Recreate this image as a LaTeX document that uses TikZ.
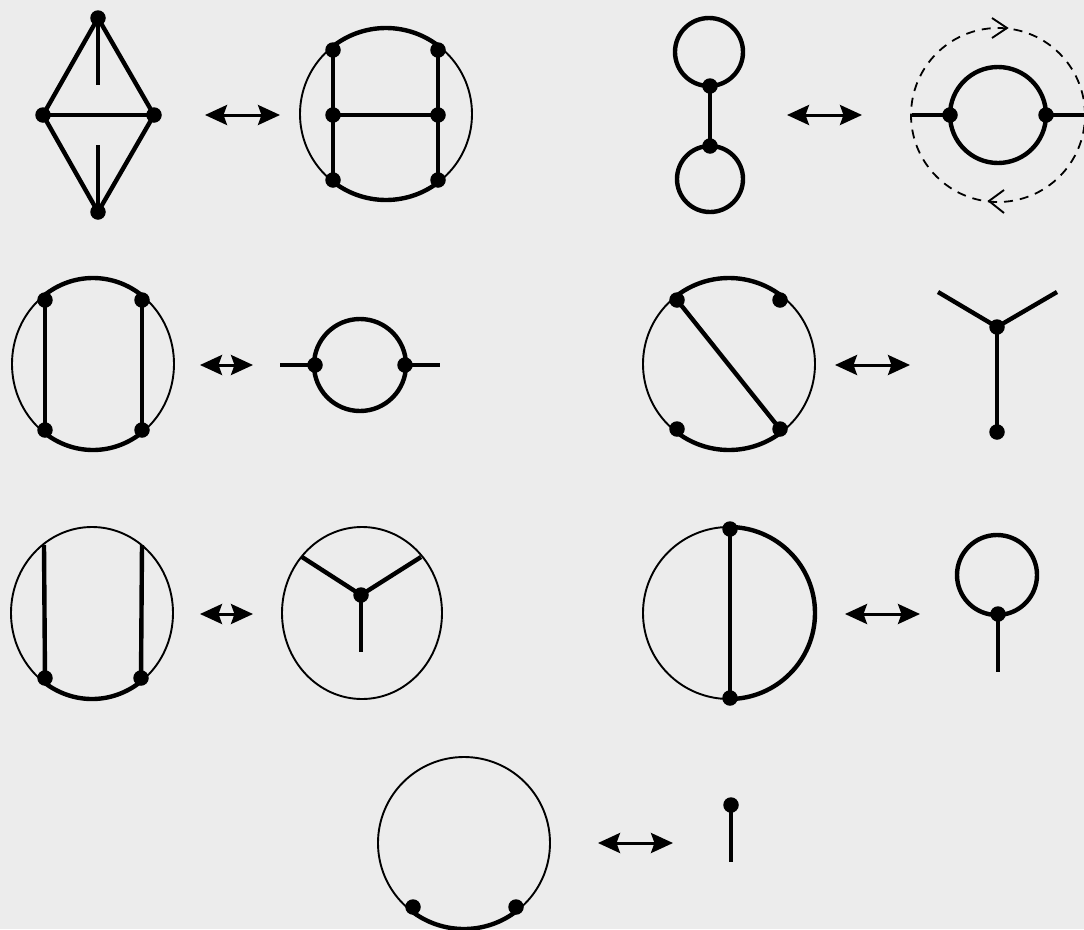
\documentclass[tikz,border=0pt]{standalone}
\usetikzlibrary{arrows.meta}
\definecolor{paper}{RGB}{236,236,236}
\begin{document}
\begin{tikzpicture}[x=1pt,y=1pt,
  edge/.style={line width=4.4pt},
  rim/.style={line width=1.9pt},
  dashrim/.style={line width=1.8pt,dash pattern=on 9pt off 7pt},
  dot/.style={circle,fill=black,inner sep=0pt,minimum size=15.5pt},
  tip/.tip={Stealth[length=22pt,width=20pt,inset=3.5pt]},
  dual/.style={line width=3pt,tip-tip},
  chev/.style={line width=1.9pt}]
\fill[paper] (0,0) rectangle (1084,-929);
\useasboundingbox (0,0) rectangle (1084,-929);
\clip (0,0) rectangle (1084,-929);

% ---------- graph 1: diamond ----------
\node[dot] (t1) at (98,-18) {};
\node[dot] (l1) at (43,-115) {};
\node[dot] (r1) at (154,-115) {};
\node[dot] (b1) at (98,-212) {};
\coordinate (s1a) at (98,-85);
\coordinate (s1b) at (98,-145);
\draw[edge] (t1.center) -- (l1.center) -- (b1.center) -- (r1.center) -- (t1.center);
\draw[edge] (l1.center) -- (r1.center);
\draw[edge] (t1.center) -- (s1a);
\draw[edge] (b1.center) -- (s1b);

\coordinate (a1s) at (205,-115); \coordinate (a1e) at (280,-115);
\draw[dual] (a1s) -- (a1e);

% ---------- graph 2: circle with H ----------
\coordinate (c2) at (386,-114);
\draw[rim] (c2) circle[radius=86];
\draw[edge] (c2) ++(50:86) arc[start angle=50,end angle=130,radius=86];
\draw[edge] (c2) ++(230:86) arc[start angle=230,end angle=310,radius=86];
\node[dot] (tl2) at (333,-50) {};
\node[dot] (tr2) at (438,-50) {};
\node[dot] (ml2) at (333,-115) {};
\node[dot] (mr2) at (438,-115) {};
\node[dot] (bl2) at (333,-180) {};
\node[dot] (br2) at (438,-180) {};
\draw[edge] (tl2.center) -- (ml2.center) -- (bl2.center);
\draw[edge] (tr2.center) -- (mr2.center) -- (br2.center);
\draw[edge] (ml2.center) -- (mr2.center);

% ---------- graph 3: dumbbell ----------
\draw[edge] (709,-52) circle[radius=34];
\draw[edge] (710,-179) circle[radius=33];
\node[dot] (u3) at (710,-86) {};
\node[dot] (d3) at (710,-146) {};
\draw[edge] (u3.center) -- (d3.center);

\coordinate (a2s) at (787,-115); \coordinate (a2e) at (862,-115);
\draw[dual] (a2s) -- (a2e);

% ---------- graph 4: bubble inside dashed circle ----------
\coordinate (c4) at (998,-115);
\draw[dashrim] (c4) circle[radius=87];
\draw[edge] (c4) circle[radius=48];
\node[dot] (l4) at (950,-115) {};
\node[dot] (r4) at (1046,-115) {};
\coordinate (e4l) at (912,-115);
\coordinate (e4r) at (1090,-115);
\draw[edge] (e4l) -- (l4.center);
\draw[edge] (r4.center) -- (e4r);
\draw[chev] (992,-18) -- (1007,-28) -- (992,-38);
\draw[chev] (1004,-190) -- (989,-201) -- (1004,-213);

% ---------- graph 5: ellipse with two verticals ----------
\coordinate (c5) at (93,-364);
\draw[rim] (c5) ellipse[x radius=81,y radius=86];
\draw[edge] (c5) ++(52:81 and 86) arc[start angle=52,end angle=128,x radius=81,y radius=86];
\draw[edge] (c5) ++(232:81 and 86) arc[start angle=232,end angle=308,x radius=81,y radius=86];
\node[dot] (tl5) at (45,-300) {};
\node[dot] (tr5) at (142,-300) {};
\node[dot] (bl5) at (45,-430) {};
\node[dot] (br5) at (142,-430) {};
\draw[edge] (tl5.center) -- (bl5.center);
\draw[edge] (tr5.center) -- (br5.center);

\coordinate (a3s) at (200,-365); \coordinate (a3e) at (253,-365);
\draw[dual] (a3s) -- (a3e);

% ---------- graph 6: bubble with two legs ----------
\draw[edge] (360,-365) circle[radius=46];
\node[dot] (l6) at (315,-365) {};
\node[dot] (r6) at (405,-365) {};
\coordinate (e6l) at (280,-365);
\coordinate (e6r) at (440,-365);
\draw[edge] (e6l) -- (l6.center);
\draw[edge] (r6.center) -- (e6r);

% ---------- graph 7: circle with diagonal ----------
\coordinate (c7) at (729,-364);
\draw[rim] (c7) circle[radius=86];
\draw[edge] (c7) ++(51:86) arc[start angle=51,end angle=129,radius=86];
\draw[edge] (c7) ++(231:86) arc[start angle=231,end angle=309,radius=86];
\node[dot] (tl7) at (677,-300) {};
\node[dot] (tr7) at (780,-300) {};
\node[dot] (bl7) at (677,-429) {};
\node[dot] (br7) at (780,-429) {};
\draw[edge] (tl7.center) -- (br7.center);

\coordinate (a4s) at (835,-365); \coordinate (a4e) at (910,-365);
\draw[dual] (a4s) -- (a4e);

% ---------- graph 8: Y ----------
\node[dot] (m8) at (997,-327) {};
\coordinate (p8a) at (938,-292);
\coordinate (p8b) at (1057,-292);
\node[dot] (b8) at (997,-432) {};
\draw[edge] (p8a) -- (m8.center) -- (p8b);
\draw[edge] (m8.center) -- (b8.center);

% ---------- graph 9: ellipse with two open verticals ----------
\coordinate (c9) at (92,-613);
\draw[rim] (c9) ellipse[x radius=81,y radius=86];
\draw[edge] (c9) ++(233:81 and 86) arc[start angle=233,end angle=307,x radius=81,y radius=86];
\coordinate (t9a) at (44,-545);
\coordinate (t9b) at (142,-545);
\node[dot] (bl9) at (45,-678) {};
\node[dot] (br9) at (141,-678) {};
\draw[edge] (t9a) -- (bl9.center);
\draw[edge] (t9b) -- (br9.center);

\coordinate (a5s) at (200,-614); \coordinate (a5e) at (253,-614);
\draw[dual] (a5s) -- (a5e);

% ---------- graph 10: Y inside ellipse ----------
\coordinate (c10) at (362,-613);
\draw[rim] (c10) ellipse[x radius=80,y radius=86];
\node[dot] (m10) at (361,-595) {};
\coordinate (p10a) at (302,-557);
\coordinate (p10b) at (421,-557);
\coordinate (p10c) at (361,-652);
\draw[edge] (p10a) -- (m10.center) -- (p10b);
\draw[edge] (m10.center) -- (p10c);

% ---------- graph 11: circle with vertical chord ----------
\coordinate (c11) at (729,-613);
\draw[rim] (c11) circle[radius=86];
\draw[edge] (c11) ++(-90:86) arc[start angle=-90,end angle=90,radius=86];
\node[dot] (t11) at (730,-529) {};
\node[dot] (b11) at (730,-698) {};
\draw[edge] (t11.center) -- (b11.center);

\coordinate (a6s) at (845,-614); \coordinate (a6e) at (920,-614);
\draw[dual] (a6s) -- (a6e);

% ---------- graph 12: tadpole ----------
\draw[edge] (997,-575) circle[radius=40];
\node[dot] (v12) at (998,-614) {};
\coordinate (e12) at (998,-672);
\draw[edge] (v12.center) -- (e12);

% ---------- graph 13: circle with bottom arc ----------
\coordinate (c13) at (464,-843);
\draw[rim] (c13) circle[radius=86];
\draw[edge] (c13) ++(232:86) arc[start angle=232,end angle=308,radius=86];
\node[dot] (bl13) at (413,-907) {};
\node[dot] (br13) at (516,-907) {};

\coordinate (a7s) at (598,-843); \coordinate (a7e) at (673,-843);
\draw[dual] (a7s) -- (a7e);

% ---------- graph 14: single leg ----------
\node[dot] (v14) at (731,-805) {};
\coordinate (e14) at (731,-862);
\draw[edge] (v14.center) -- (e14);
\end{tikzpicture}
\end{document}
